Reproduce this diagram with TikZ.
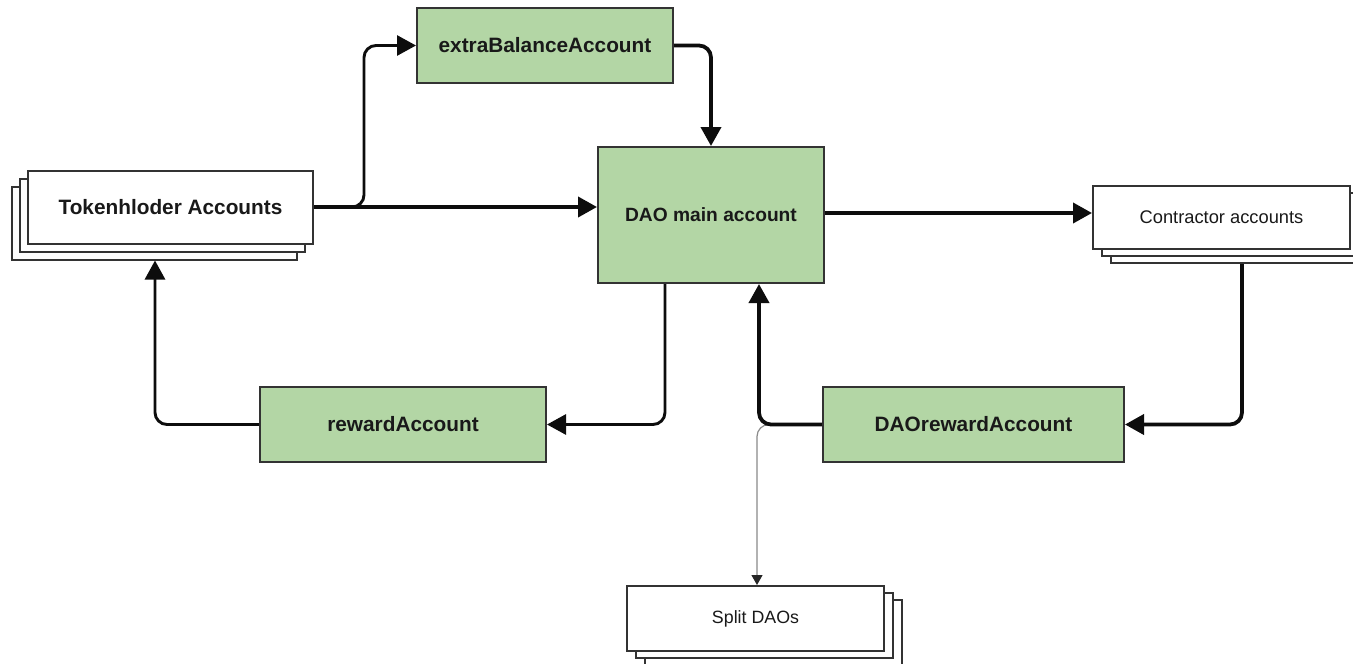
\documentclass[tikz,border=0pt]{standalone}
\usepackage{fontspec}
\setmainfont{Liberation Sans}
\usetikzlibrary{arrows.meta,shadows}
\definecolor{boxgreen}{HTML}{B3D6A5}
\definecolor{boxline}{HTML}{333333}
\definecolor{thinline}{HTML}{8A8A8A}
\tikzset{
  greenbox/.style={draw=boxline, line width=2pt, fill=boxgreen, inner sep=0pt,
    text=black!90, font=\fontsize{20.8}{24}\selectfont\bfseries},
  whitebox/.style={draw=boxline, line width=2pt, fill=white, inner sep=0pt, text=black!90},
  conn/.style={draw=black!95, line width=3.8pt, rounded corners=12pt,
    -{Triangle[length=19pt,width=20pt]}},
  connmid/.style={draw=black!95, line width=2.9pt, rounded corners=12pt,
    -{Triangle[length=19pt,width=20pt]}},
  connthin/.style={draw=thinline, line width=1.2pt, rounded corners=12pt,
    -{Triangle[length=10pt,width=11pt,color=black!85]}},
}
\begin{document}
\begin{tikzpicture}[x=1pt,y=-1pt]
\useasboundingbox[fill=white] (0,0) rectangle (1353,664);

% nodes
\node[whitebox, minimum width=285pt, minimum height=73pt,
  double copy shadow={shadow xshift=-8pt, shadow yshift=-8pt},
  font=\fontsize{20.8}{24}\selectfont\bfseries] (tok) at (170.5,207) {Tokenhloder Accounts};
\node[greenbox, minimum width=256pt, minimum height=75pt] (extra) at (545,45.5) {extraBalanceAccount};
\node[greenbox, minimum width=226pt, minimum height=136pt,
  font=\fontsize{19.2}{22}\selectfont\bfseries] (dao) at (711,215) {DAO main account};
\node[whitebox, minimum width=257pt, minimum height=63pt,
  double copy shadow={shadow xshift=9pt, shadow yshift=-7pt},
  font=\fontsize{18.3}{22}\selectfont] (con) at (1221.5,217.5) {Contractor accounts};
\node[greenbox, minimum width=286pt, minimum height=75pt] (rew) at (403,424.5) {rewardAccount};
\node[greenbox, minimum width=301pt, minimum height=75pt] (drw) at (973.5,424.5) {DAOrewardAccount};
\node[whitebox, minimum width=257pt, minimum height=65pt,
  double copy shadow={shadow xshift=9pt, shadow yshift=-7pt},
  font=\fontsize{17.8}{21}\selectfont] (split) at (755.5,618.5) {Split DAOs};

% connectors
\draw[connthin] (drw.west) -| ([xshift=1.5pt]split.north);
\draw[connmid] (tok.east) -- ++(50,0) |- (extra.west);
\draw[conn] (tok.east) -- (tok.east -| dao.west);
\draw[conn] (extra.east) -| (dao.north);
\draw[conn] ([yshift=2pt]dao.east) -- ([yshift=2pt]dao.east -| con.west);
\draw[conn] ([xshift=20.5pt,yshift=-14pt]con.south) |- (drw.east);
\draw[conn] (drw.west) -| ([xshift=48pt]dao.south);
\draw[connmid] ([xshift=-46pt]dao.south) |- (rew.east);
\draw[connmid] (rew.west) -| ([xshift=-15.5pt,yshift=-16pt]tok.south);
\end{tikzpicture}
\end{document}
